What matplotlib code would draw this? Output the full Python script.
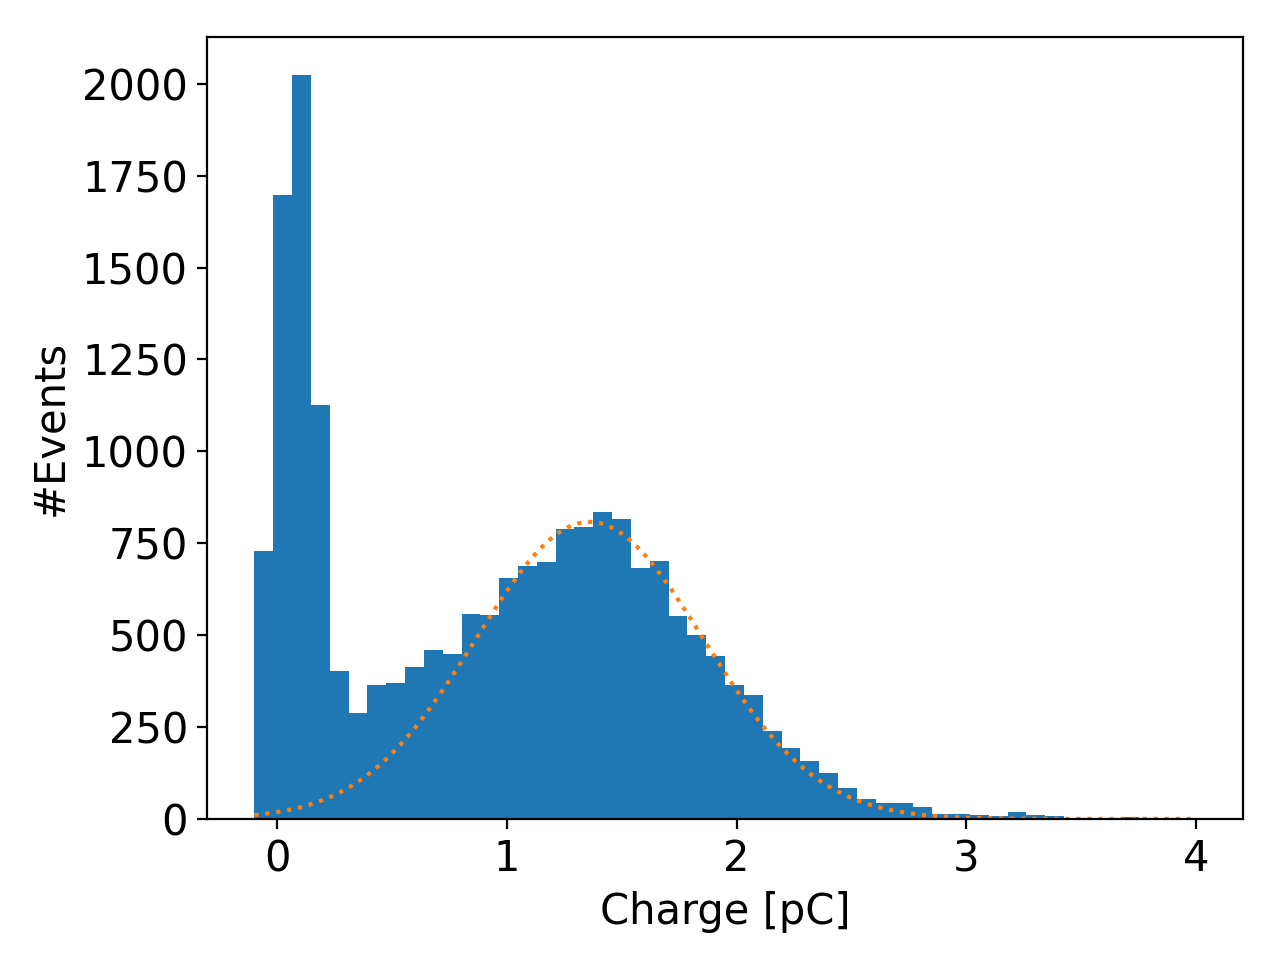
import numpy as np
import matplotlib
matplotlib.use('Agg')
import matplotlib.pyplot as plt

# charge histogram, 50 bins from -0.1 to 4.0 pC (counts)
bin_lo = -0.1
bin_hi = 4.0
n_bins = 50
counts = [728, 1697, 2025, 1127, 402, 287, 364, 370, 412, 460,
          448, 558, 556, 655, 689, 699, 788, 795, 834, 816,
          682, 701, 552, 499, 443, 364, 337, 239, 194, 158,
          124, 83, 53, 44, 43, 32, 14, 13, 10, 8,
          18, 11, 8, 1, 1, 2, 4, 1, 0, 1]

# gaussian fit to the single photoelectron peak
fit_amp = 808.0
fit_mu = 1.36
fit_sigma = 0.495

plt.rcParams['font.size'] = 15

edges = np.linspace(bin_lo, bin_hi, n_bins + 1)
centers = 0.5 * (edges[:-1] + edges[1:])

fig, ax = plt.subplots(figsize=(6.4, 4.8), dpi=200)
ax.hist(centers, bins=edges, weights=counts)

xfit = np.linspace(bin_lo, bin_hi, 400)
ax.plot(xfit, fit_amp * np.exp(-(xfit - fit_mu) ** 2 / (2 * fit_sigma ** 2)),
        ':', color='C1')

ax.set_xlabel('Charge [pC]')
ax.set_ylabel('#Events')
fig.subplots_adjust(left=0.162, right=0.971, bottom=0.147, top=0.961)
fig.savefig('out.png')
